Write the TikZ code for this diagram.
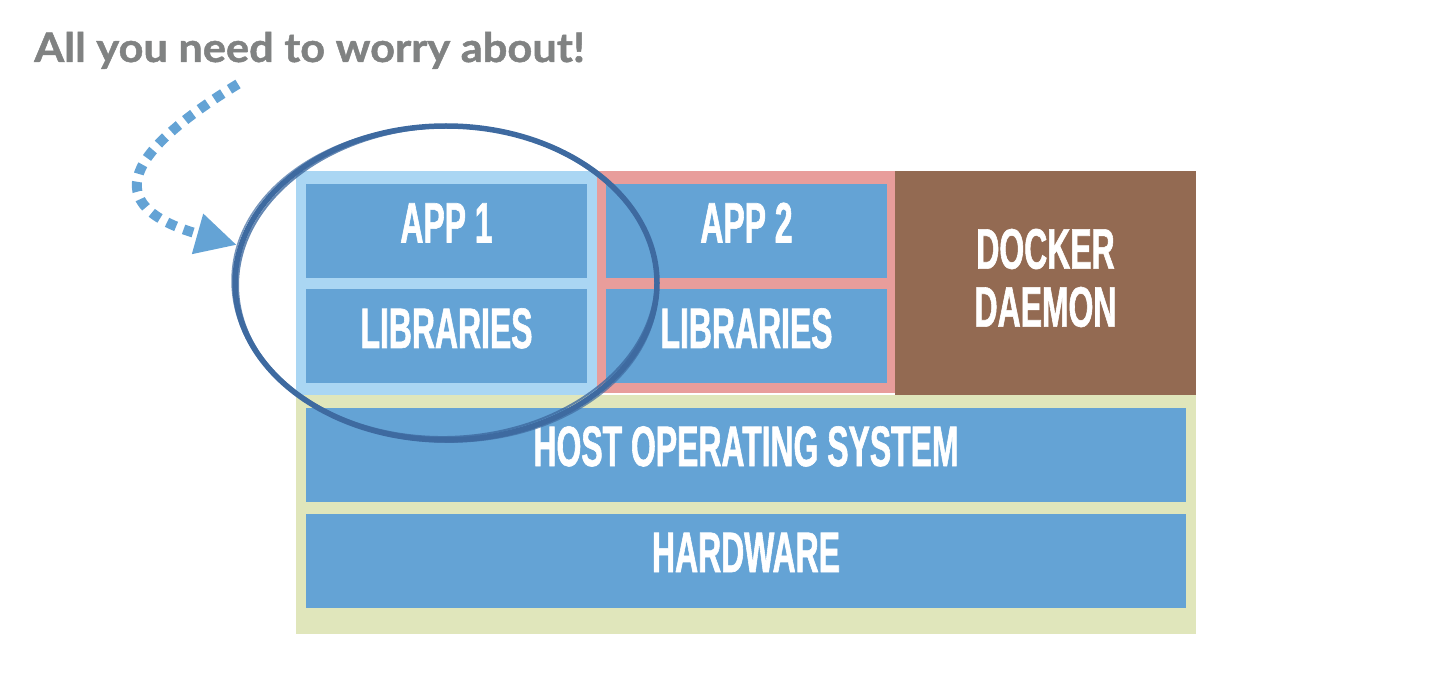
\documentclass[tikz,border=0pt]{standalone}
\usepackage{fontspec}
\usetikzlibrary{arrows.meta}
\newfontfamily\dinfont{Liberation Sans}[FakeStretch=0.56,FakeBold=1]
\newfontfamily\titlefont{Lato}[FakeStretch=1.07,FakeBold=1.2]
\definecolor{boxblue}{HTML}{64A3D5}
\definecolor{lightblue}{HTML}{AAD6F3}
\definecolor{pinkframe}{HTML}{E89D9B}
\definecolor{dockerbrown}{HTML}{936A52}
\definecolor{hostgreen}{HTML}{E0E6BB}
\definecolor{circblue}{HTML}{3E6AA0}
\definecolor{titlegray}{HTML}{808282}
\begin{document}
\begin{tikzpicture}[x=1pt,y=-1pt,
  frame/.style={draw=none, inner sep=0pt, minimum width=#1},
  blk/.style={fill=boxblue, draw=none, inner sep=0pt, minimum width=281pt, minimum height=94pt,
    text=white, font=\dinfont\bfseries\fontsize{57}{58}\selectfont, text height=41pt, text depth=18pt},
  wide/.style={blk, minimum width=880pt},
  lbl/.style={text=white, inner sep=0pt, align=center, font=\dinfont\bfseries\fontsize{57}{58}\selectfont},
  dots/.style={draw=boxblue, line width=10pt, dash pattern=on 10pt off 8pt, -{Triangle[length=41pt,width=39pt]}},
  circ/.style={draw=circblue, line width=#1},
]
\useasboundingbox (0,0) rectangle (1448,700);

% frames
\node[frame=900pt, fill=hostgreen, minimum height=239pt] (host) at (746,514.5) {};
\node[frame=301pt, fill=lightblue, minimum height=224pt] (c1) at (446.5,283) {};
\node[frame=298pt, fill=pinkframe, minimum height=222pt] (c2) at (746,282) {};
\node[frame=301pt, fill=dockerbrown, minimum height=224pt] (docker) at (1045.5,283) {};

% boxes
\node[blk] (app1) at (446.5,231) {APP 1};
\node[blk] (lib1) at (446.5,336.5) {LIBRARIES};
\node[blk] (app2) at (746.5,231) {APP 2};
\node[blk] (lib2) at (746.5,336.5) {LIBRARIES};
\node[wide] (os) at (746,454.5) {HOST OPERATING SYSTEM};
\node[wide] (hw) at (746,560.5) {HARDWARE};
\node[lbl] (dlabel) at ([yshift=5pt]docker.center) {DOCKER\\DAEMON};

% title
\node[anchor=base west, inner sep=0pt, text=titlegray,
  font=\titlefont\bfseries\fontsize{40.5}{48}\selectfont] (title) at (34,62) {All you need to worry about!};

% hand-drawn circle
\draw[circ=5.5pt] (446,283) ellipse [x radius=211, y radius=157];
\draw[circ=2pt, opacity=0.8, rotate around={2:(446,283)}] (447,282) ellipse [x radius=209, y radius=155];
\draw[circ=1.5pt, opacity=0.7, rotate around={-2:(446,283)}] (445,284) ellipse [x radius=213, y radius=158];

% dotted arrow
\coordinate (s) at (238,84);
\coordinate (t) at (237,245);
\draw[dots] (s) .. controls (130,150) and (95,205) .. (t);
\end{tikzpicture}
\end{document}
